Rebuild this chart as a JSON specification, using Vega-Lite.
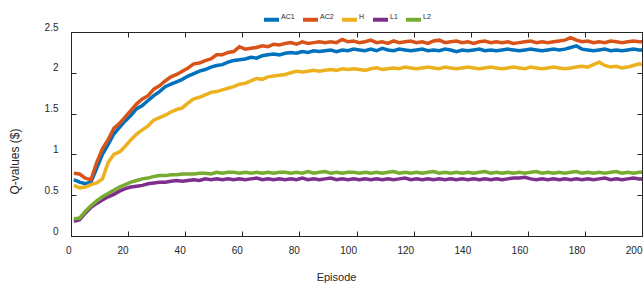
{
"$schema": "https://vega.github.io/schema/vega-lite/v6.json",
"width": 571, "height": 204,
"autosize": {"type": "none"},
"padding": {"left": 71, "top": 32, "right": 2, "bottom": 54},
"background": "white",
"config": {"view": {"stroke": "#262626", "strokeWidth": 1}, "font": "Liberation Sans",
 "axis": {"domainColor": "#262626", "domainWidth": 1, "domainOpacity": 1, "tickColor": "#262626", "labelColor": "#262626", "titleColor": "#262626", "grid": false, "tickSize": -5, "labelFontSize": 10, "titleFontWeight": "normal", "labelFont": "Liberation Sans", "titleFont": "Liberation Sans"}},
"datasets": {"q": [
{"e":1,"s":"AC1","q":0.69},{"e":3,"s":"AC1","q":0.66},{"e":5,"s":"AC1","q":0.64},{"e":7,"s":"AC1","q":0.66},{"e":9,"s":"AC1","q":0.83},{"e":11,"s":"AC1","q":1.0},{"e":13,"s":"AC1","q":1.12},{"e":15,"s":"AC1","q":1.25},{"e":17,"s":"AC1","q":1.33},{"e":19,"s":"AC1","q":1.41},{"e":21,"s":"AC1","q":1.48},{"e":23,"s":"AC1","q":1.56},{"e":25,"s":"AC1","q":1.6},{"e":27,"s":"AC1","q":1.66},{"e":29,"s":"AC1","q":1.72},{"e":31,"s":"AC1","q":1.77},{"e":33,"s":"AC1","q":1.83},{"e":35,"s":"AC1","q":1.86},{"e":37,"s":"AC1","q":1.89},{"e":39,"s":"AC1","q":1.92},{"e":41,"s":"AC1","q":1.96},{"e":43,"s":"AC1","q":1.99},{"e":45,"s":"AC1","q":2.02},{"e":47,"s":"AC1","q":2.04},{"e":49,"s":"AC1","q":2.07},{"e":51,"s":"AC1","q":2.09},{"e":53,"s":"AC1","q":2.1},{"e":55,"s":"AC1","q":2.13},{"e":57,"s":"AC1","q":2.15},{"e":59,"s":"AC1","q":2.16},{"e":61,"s":"AC1","q":2.17},{"e":63,"s":"AC1","q":2.19},{"e":65,"s":"AC1","q":2.18},{"e":67,"s":"AC1","q":2.21},{"e":69,"s":"AC1","q":2.22},{"e":71,"s":"AC1","q":2.23},{"e":73,"s":"AC1","q":2.22},{"e":75,"s":"AC1","q":2.24},{"e":77,"s":"AC1","q":2.25},{"e":79,"s":"AC1","q":2.24},{"e":81,"s":"AC1","q":2.26},{"e":83,"s":"AC1","q":2.25},{"e":85,"s":"AC1","q":2.27},{"e":87,"s":"AC1","q":2.26},{"e":89,"s":"AC1","q":2.27},{"e":91,"s":"AC1","q":2.28},{"e":93,"s":"AC1","q":2.26},{"e":95,"s":"AC1","q":2.28},{"e":97,"s":"AC1","q":2.27},{"e":99,"s":"AC1","q":2.29},{"e":101,"s":"AC1","q":2.28},{"e":103,"s":"AC1","q":2.27},{"e":105,"s":"AC1","q":2.29},{"e":107,"s":"AC1","q":2.27},{"e":109,"s":"AC1","q":2.3},{"e":111,"s":"AC1","q":2.28},{"e":113,"s":"AC1","q":2.27},{"e":115,"s":"AC1","q":2.29},{"e":117,"s":"AC1","q":2.28},{"e":119,"s":"AC1","q":2.27},{"e":121,"s":"AC1","q":2.28},{"e":123,"s":"AC1","q":2.29},{"e":125,"s":"AC1","q":2.27},{"e":127,"s":"AC1","q":2.28},{"e":129,"s":"AC1","q":2.27},{"e":131,"s":"AC1","q":2.29},{"e":133,"s":"AC1","q":2.28},{"e":135,"s":"AC1","q":2.26},{"e":137,"s":"AC1","q":2.28},{"e":139,"s":"AC1","q":2.27},{"e":141,"s":"AC1","q":2.28},{"e":143,"s":"AC1","q":2.29},{"e":145,"s":"AC1","q":2.27},{"e":147,"s":"AC1","q":2.28},{"e":149,"s":"AC1","q":2.27},{"e":151,"s":"AC1","q":2.28},{"e":153,"s":"AC1","q":2.29},{"e":155,"s":"AC1","q":2.28},{"e":157,"s":"AC1","q":2.27},{"e":159,"s":"AC1","q":2.28},{"e":161,"s":"AC1","q":2.29},{"e":163,"s":"AC1","q":2.28},{"e":165,"s":"AC1","q":2.27},{"e":167,"s":"AC1","q":2.28},{"e":169,"s":"AC1","q":2.29},{"e":171,"s":"AC1","q":2.28},{"e":173,"s":"AC1","q":2.29},{"e":175,"s":"AC1","q":2.31},{"e":177,"s":"AC1","q":2.33},{"e":179,"s":"AC1","q":2.29},{"e":181,"s":"AC1","q":2.28},{"e":183,"s":"AC1","q":2.27},{"e":185,"s":"AC1","q":2.28},{"e":187,"s":"AC1","q":2.29},{"e":189,"s":"AC1","q":2.27},{"e":191,"s":"AC1","q":2.28},{"e":193,"s":"AC1","q":2.27},{"e":195,"s":"AC1","q":2.28},{"e":197,"s":"AC1","q":2.29},{"e":199,"s":"AC1","q":2.28},{"e":200,"s":"AC1","q":2.28},
{"e":1,"s":"AC2","q":0.77},{"e":3,"s":"AC2","q":0.76},{"e":5,"s":"AC2","q":0.71},{"e":7,"s":"AC2","q":0.69},{"e":9,"s":"AC2","q":0.9},{"e":11,"s":"AC2","q":1.07},{"e":13,"s":"AC2","q":1.18},{"e":15,"s":"AC2","q":1.32},{"e":17,"s":"AC2","q":1.38},{"e":19,"s":"AC2","q":1.46},{"e":21,"s":"AC2","q":1.54},{"e":23,"s":"AC2","q":1.62},{"e":25,"s":"AC2","q":1.68},{"e":27,"s":"AC2","q":1.72},{"e":29,"s":"AC2","q":1.8},{"e":31,"s":"AC2","q":1.84},{"e":33,"s":"AC2","q":1.9},{"e":35,"s":"AC2","q":1.95},{"e":37,"s":"AC2","q":1.98},{"e":39,"s":"AC2","q":2.02},{"e":41,"s":"AC2","q":2.06},{"e":43,"s":"AC2","q":2.11},{"e":45,"s":"AC2","q":2.12},{"e":47,"s":"AC2","q":2.15},{"e":49,"s":"AC2","q":2.17},{"e":51,"s":"AC2","q":2.22},{"e":53,"s":"AC2","q":2.22},{"e":55,"s":"AC2","q":2.25},{"e":57,"s":"AC2","q":2.26},{"e":59,"s":"AC2","q":2.32},{"e":61,"s":"AC2","q":2.29},{"e":63,"s":"AC2","q":2.3},{"e":65,"s":"AC2","q":2.31},{"e":67,"s":"AC2","q":2.33},{"e":69,"s":"AC2","q":2.32},{"e":71,"s":"AC2","q":2.35},{"e":73,"s":"AC2","q":2.34},{"e":75,"s":"AC2","q":2.36},{"e":77,"s":"AC2","q":2.37},{"e":79,"s":"AC2","q":2.35},{"e":81,"s":"AC2","q":2.38},{"e":83,"s":"AC2","q":2.36},{"e":85,"s":"AC2","q":2.37},{"e":87,"s":"AC2","q":2.38},{"e":89,"s":"AC2","q":2.37},{"e":91,"s":"AC2","q":2.38},{"e":93,"s":"AC2","q":2.37},{"e":95,"s":"AC2","q":2.41},{"e":97,"s":"AC2","q":2.38},{"e":99,"s":"AC2","q":2.39},{"e":101,"s":"AC2","q":2.37},{"e":103,"s":"AC2","q":2.38},{"e":105,"s":"AC2","q":2.4},{"e":107,"s":"AC2","q":2.37},{"e":109,"s":"AC2","q":2.38},{"e":111,"s":"AC2","q":2.36},{"e":113,"s":"AC2","q":2.39},{"e":115,"s":"AC2","q":2.37},{"e":117,"s":"AC2","q":2.38},{"e":119,"s":"AC2","q":2.39},{"e":121,"s":"AC2","q":2.37},{"e":123,"s":"AC2","q":2.38},{"e":125,"s":"AC2","q":2.36},{"e":127,"s":"AC2","q":2.39},{"e":129,"s":"AC2","q":2.4},{"e":131,"s":"AC2","q":2.37},{"e":133,"s":"AC2","q":2.38},{"e":135,"s":"AC2","q":2.39},{"e":137,"s":"AC2","q":2.37},{"e":139,"s":"AC2","q":2.38},{"e":141,"s":"AC2","q":2.36},{"e":143,"s":"AC2","q":2.38},{"e":145,"s":"AC2","q":2.39},{"e":147,"s":"AC2","q":2.37},{"e":149,"s":"AC2","q":2.38},{"e":151,"s":"AC2","q":2.37},{"e":153,"s":"AC2","q":2.38},{"e":155,"s":"AC2","q":2.36},{"e":157,"s":"AC2","q":2.37},{"e":159,"s":"AC2","q":2.38},{"e":161,"s":"AC2","q":2.39},{"e":163,"s":"AC2","q":2.37},{"e":165,"s":"AC2","q":2.38},{"e":167,"s":"AC2","q":2.37},{"e":169,"s":"AC2","q":2.38},{"e":171,"s":"AC2","q":2.39},{"e":173,"s":"AC2","q":2.4},{"e":175,"s":"AC2","q":2.43},{"e":177,"s":"AC2","q":2.4},{"e":179,"s":"AC2","q":2.38},{"e":181,"s":"AC2","q":2.39},{"e":183,"s":"AC2","q":2.37},{"e":185,"s":"AC2","q":2.38},{"e":187,"s":"AC2","q":2.37},{"e":189,"s":"AC2","q":2.39},{"e":191,"s":"AC2","q":2.38},{"e":193,"s":"AC2","q":2.37},{"e":195,"s":"AC2","q":2.38},{"e":197,"s":"AC2","q":2.39},{"e":199,"s":"AC2","q":2.38},{"e":200,"s":"AC2","q":2.38},
{"e":1,"s":"H","q":0.62},{"e":3,"s":"H","q":0.59},{"e":5,"s":"H","q":0.6},{"e":7,"s":"H","q":0.63},{"e":9,"s":"H","q":0.65},{"e":11,"s":"H","q":0.7},{"e":13,"s":"H","q":0.9},{"e":15,"s":"H","q":1.0},{"e":17,"s":"H","q":1.03},{"e":19,"s":"H","q":1.1},{"e":21,"s":"H","q":1.18},{"e":23,"s":"H","q":1.25},{"e":25,"s":"H","q":1.3},{"e":27,"s":"H","q":1.35},{"e":29,"s":"H","q":1.42},{"e":31,"s":"H","q":1.45},{"e":33,"s":"H","q":1.48},{"e":35,"s":"H","q":1.52},{"e":37,"s":"H","q":1.55},{"e":39,"s":"H","q":1.57},{"e":41,"s":"H","q":1.63},{"e":43,"s":"H","q":1.68},{"e":45,"s":"H","q":1.7},{"e":47,"s":"H","q":1.73},{"e":49,"s":"H","q":1.76},{"e":51,"s":"H","q":1.77},{"e":53,"s":"H","q":1.79},{"e":55,"s":"H","q":1.81},{"e":57,"s":"H","q":1.83},{"e":59,"s":"H","q":1.86},{"e":61,"s":"H","q":1.87},{"e":63,"s":"H","q":1.9},{"e":65,"s":"H","q":1.93},{"e":67,"s":"H","q":1.92},{"e":69,"s":"H","q":1.95},{"e":71,"s":"H","q":1.96},{"e":73,"s":"H","q":1.97},{"e":75,"s":"H","q":1.98},{"e":77,"s":"H","q":2.0},{"e":79,"s":"H","q":2.02},{"e":81,"s":"H","q":2.01},{"e":83,"s":"H","q":2.02},{"e":85,"s":"H","q":2.03},{"e":87,"s":"H","q":2.02},{"e":89,"s":"H","q":2.03},{"e":91,"s":"H","q":2.04},{"e":93,"s":"H","q":2.03},{"e":95,"s":"H","q":2.05},{"e":97,"s":"H","q":2.04},{"e":99,"s":"H","q":2.05},{"e":101,"s":"H","q":2.04},{"e":103,"s":"H","q":2.03},{"e":105,"s":"H","q":2.05},{"e":107,"s":"H","q":2.06},{"e":109,"s":"H","q":2.04},{"e":111,"s":"H","q":2.05},{"e":113,"s":"H","q":2.06},{"e":115,"s":"H","q":2.05},{"e":117,"s":"H","q":2.07},{"e":119,"s":"H","q":2.06},{"e":121,"s":"H","q":2.05},{"e":123,"s":"H","q":2.06},{"e":125,"s":"H","q":2.07},{"e":127,"s":"H","q":2.06},{"e":129,"s":"H","q":2.05},{"e":131,"s":"H","q":2.07},{"e":133,"s":"H","q":2.06},{"e":135,"s":"H","q":2.05},{"e":137,"s":"H","q":2.06},{"e":139,"s":"H","q":2.07},{"e":141,"s":"H","q":2.06},{"e":143,"s":"H","q":2.05},{"e":145,"s":"H","q":2.06},{"e":147,"s":"H","q":2.07},{"e":149,"s":"H","q":2.06},{"e":151,"s":"H","q":2.05},{"e":153,"s":"H","q":2.06},{"e":155,"s":"H","q":2.07},{"e":157,"s":"H","q":2.06},{"e":159,"s":"H","q":2.05},{"e":161,"s":"H","q":2.07},{"e":163,"s":"H","q":2.06},{"e":165,"s":"H","q":2.05},{"e":167,"s":"H","q":2.06},{"e":169,"s":"H","q":2.07},{"e":171,"s":"H","q":2.06},{"e":173,"s":"H","q":2.05},{"e":175,"s":"H","q":2.06},{"e":177,"s":"H","q":2.07},{"e":179,"s":"H","q":2.08},{"e":181,"s":"H","q":2.07},{"e":183,"s":"H","q":2.1},{"e":185,"s":"H","q":2.13},{"e":187,"s":"H","q":2.09},{"e":189,"s":"H","q":2.07},{"e":191,"s":"H","q":2.08},{"e":193,"s":"H","q":2.06},{"e":195,"s":"H","q":2.07},{"e":197,"s":"H","q":2.09},{"e":199,"s":"H","q":2.11},{"e":200,"s":"H","q":2.1},
{"e":1,"s":"L1","q":0.18},{"e":3,"s":"L1","q":0.2},{"e":5,"s":"L1","q":0.28},{"e":7,"s":"L1","q":0.35},{"e":9,"s":"L1","q":0.4},{"e":11,"s":"L1","q":0.44},{"e":13,"s":"L1","q":0.48},{"e":15,"s":"L1","q":0.51},{"e":17,"s":"L1","q":0.55},{"e":19,"s":"L1","q":0.58},{"e":21,"s":"L1","q":0.6},{"e":23,"s":"L1","q":0.61},{"e":25,"s":"L1","q":0.62},{"e":27,"s":"L1","q":0.64},{"e":29,"s":"L1","q":0.65},{"e":31,"s":"L1","q":0.66},{"e":33,"s":"L1","q":0.66},{"e":35,"s":"L1","q":0.67},{"e":37,"s":"L1","q":0.68},{"e":39,"s":"L1","q":0.67},{"e":41,"s":"L1","q":0.68},{"e":43,"s":"L1","q":0.69},{"e":45,"s":"L1","q":0.68},{"e":47,"s":"L1","q":0.7},{"e":49,"s":"L1","q":0.69},{"e":51,"s":"L1","q":0.7},{"e":53,"s":"L1","q":0.69},{"e":55,"s":"L1","q":0.7},{"e":57,"s":"L1","q":0.69},{"e":59,"s":"L1","q":0.7},{"e":61,"s":"L1","q":0.69},{"e":63,"s":"L1","q":0.7},{"e":65,"s":"L1","q":0.71},{"e":67,"s":"L1","q":0.69},{"e":69,"s":"L1","q":0.7},{"e":71,"s":"L1","q":0.69},{"e":73,"s":"L1","q":0.7},{"e":75,"s":"L1","q":0.69},{"e":77,"s":"L1","q":0.7},{"e":79,"s":"L1","q":0.69},{"e":81,"s":"L1","q":0.71},{"e":83,"s":"L1","q":0.69},{"e":85,"s":"L1","q":0.7},{"e":87,"s":"L1","q":0.69},{"e":89,"s":"L1","q":0.7},{"e":91,"s":"L1","q":0.71},{"e":93,"s":"L1","q":0.69},{"e":95,"s":"L1","q":0.7},{"e":97,"s":"L1","q":0.69},{"e":99,"s":"L1","q":0.7},{"e":101,"s":"L1","q":0.69},{"e":103,"s":"L1","q":0.7},{"e":105,"s":"L1","q":0.69},{"e":107,"s":"L1","q":0.7},{"e":109,"s":"L1","q":0.69},{"e":111,"s":"L1","q":0.7},{"e":113,"s":"L1","q":0.69},{"e":115,"s":"L1","q":0.7},{"e":117,"s":"L1","q":0.71},{"e":119,"s":"L1","q":0.69},{"e":121,"s":"L1","q":0.7},{"e":123,"s":"L1","q":0.69},{"e":125,"s":"L1","q":0.7},{"e":127,"s":"L1","q":0.69},{"e":129,"s":"L1","q":0.7},{"e":131,"s":"L1","q":0.69},{"e":133,"s":"L1","q":0.7},{"e":135,"s":"L1","q":0.69},{"e":137,"s":"L1","q":0.7},{"e":139,"s":"L1","q":0.69},{"e":141,"s":"L1","q":0.7},{"e":143,"s":"L1","q":0.69},{"e":145,"s":"L1","q":0.7},{"e":147,"s":"L1","q":0.69},{"e":149,"s":"L1","q":0.7},{"e":151,"s":"L1","q":0.69},{"e":153,"s":"L1","q":0.7},{"e":155,"s":"L1","q":0.71},{"e":157,"s":"L1","q":0.71},{"e":159,"s":"L1","q":0.72},{"e":161,"s":"L1","q":0.7},{"e":163,"s":"L1","q":0.69},{"e":165,"s":"L1","q":0.7},{"e":167,"s":"L1","q":0.69},{"e":169,"s":"L1","q":0.7},{"e":171,"s":"L1","q":0.69},{"e":173,"s":"L1","q":0.7},{"e":175,"s":"L1","q":0.69},{"e":177,"s":"L1","q":0.7},{"e":179,"s":"L1","q":0.69},{"e":181,"s":"L1","q":0.7},{"e":183,"s":"L1","q":0.69},{"e":185,"s":"L1","q":0.7},{"e":187,"s":"L1","q":0.71},{"e":189,"s":"L1","q":0.69},{"e":191,"s":"L1","q":0.7},{"e":193,"s":"L1","q":0.69},{"e":195,"s":"L1","q":0.7},{"e":197,"s":"L1","q":0.71},{"e":199,"s":"L1","q":0.7},{"e":200,"s":"L1","q":0.7},
{"e":1,"s":"L2","q":0.21},{"e":3,"s":"L2","q":0.22},{"e":5,"s":"L2","q":0.3},{"e":7,"s":"L2","q":0.37},{"e":9,"s":"L2","q":0.43},{"e":11,"s":"L2","q":0.48},{"e":13,"s":"L2","q":0.52},{"e":15,"s":"L2","q":0.56},{"e":17,"s":"L2","q":0.6},{"e":19,"s":"L2","q":0.63},{"e":21,"s":"L2","q":0.66},{"e":23,"s":"L2","q":0.68},{"e":25,"s":"L2","q":0.7},{"e":27,"s":"L2","q":0.71},{"e":29,"s":"L2","q":0.73},{"e":31,"s":"L2","q":0.74},{"e":33,"s":"L2","q":0.74},{"e":35,"s":"L2","q":0.75},{"e":37,"s":"L2","q":0.75},{"e":39,"s":"L2","q":0.76},{"e":41,"s":"L2","q":0.76},{"e":43,"s":"L2","q":0.76},{"e":45,"s":"L2","q":0.77},{"e":47,"s":"L2","q":0.77},{"e":49,"s":"L2","q":0.76},{"e":51,"s":"L2","q":0.78},{"e":53,"s":"L2","q":0.77},{"e":55,"s":"L2","q":0.78},{"e":57,"s":"L2","q":0.78},{"e":59,"s":"L2","q":0.77},{"e":61,"s":"L2","q":0.78},{"e":63,"s":"L2","q":0.77},{"e":65,"s":"L2","q":0.78},{"e":67,"s":"L2","q":0.77},{"e":69,"s":"L2","q":0.78},{"e":71,"s":"L2","q":0.77},{"e":73,"s":"L2","q":0.78},{"e":75,"s":"L2","q":0.78},{"e":77,"s":"L2","q":0.77},{"e":79,"s":"L2","q":0.78},{"e":81,"s":"L2","q":0.77},{"e":83,"s":"L2","q":0.79},{"e":85,"s":"L2","q":0.77},{"e":87,"s":"L2","q":0.78},{"e":89,"s":"L2","q":0.79},{"e":91,"s":"L2","q":0.77},{"e":93,"s":"L2","q":0.78},{"e":95,"s":"L2","q":0.77},{"e":97,"s":"L2","q":0.78},{"e":99,"s":"L2","q":0.78},{"e":101,"s":"L2","q":0.77},{"e":103,"s":"L2","q":0.78},{"e":105,"s":"L2","q":0.77},{"e":107,"s":"L2","q":0.78},{"e":109,"s":"L2","q":0.77},{"e":111,"s":"L2","q":0.78},{"e":113,"s":"L2","q":0.79},{"e":115,"s":"L2","q":0.77},{"e":117,"s":"L2","q":0.78},{"e":119,"s":"L2","q":0.77},{"e":121,"s":"L2","q":0.78},{"e":123,"s":"L2","q":0.77},{"e":125,"s":"L2","q":0.78},{"e":127,"s":"L2","q":0.79},{"e":129,"s":"L2","q":0.77},{"e":131,"s":"L2","q":0.78},{"e":133,"s":"L2","q":0.77},{"e":135,"s":"L2","q":0.78},{"e":137,"s":"L2","q":0.77},{"e":139,"s":"L2","q":0.78},{"e":141,"s":"L2","q":0.77},{"e":143,"s":"L2","q":0.78},{"e":145,"s":"L2","q":0.79},{"e":147,"s":"L2","q":0.77},{"e":149,"s":"L2","q":0.78},{"e":151,"s":"L2","q":0.77},{"e":153,"s":"L2","q":0.78},{"e":155,"s":"L2","q":0.77},{"e":157,"s":"L2","q":0.78},{"e":159,"s":"L2","q":0.77},{"e":161,"s":"L2","q":0.78},{"e":163,"s":"L2","q":0.79},{"e":165,"s":"L2","q":0.77},{"e":167,"s":"L2","q":0.78},{"e":169,"s":"L2","q":0.77},{"e":171,"s":"L2","q":0.78},{"e":173,"s":"L2","q":0.77},{"e":175,"s":"L2","q":0.78},{"e":177,"s":"L2","q":0.79},{"e":179,"s":"L2","q":0.77},{"e":181,"s":"L2","q":0.78},{"e":183,"s":"L2","q":0.77},{"e":185,"s":"L2","q":0.78},{"e":187,"s":"L2","q":0.77},{"e":189,"s":"L2","q":0.78},{"e":191,"s":"L2","q":0.79},{"e":193,"s":"L2","q":0.77},{"e":195,"s":"L2","q":0.78},{"e":197,"s":"L2","q":0.77},{"e":199,"s":"L2","q":0.78},{"e":200,"s":"L2","q":0.78}
]},
"data": {"name": "q"},
"layer": [
 {"mark": {"type": "line", "strokeWidth": 3.5},
  "encoding": {
   "x": {"field": "e", "type": "quantitative", "scale": {"domain": [0, 200], "nice": false},
     "axis": {"orient": "bottom", "values": [0, 20, 40, 60, 80, 100, 120, 140, 160, 180, 200], "labelAlign": "right", "labelFlush": false, "labelPadding": 14, "title": "Episode", "titleX": 265, "titleY": 44, "titleAlign": "center", "titleBaseline": "alphabetic", "titleFontSize": 11}},
   "y": {"field": "q", "type": "quantitative", "scale": {"domain": [0, 2.5], "nice": false},
     "axis": {"orient": "left", "values": [0, 0.5, 1, 1.5, 2, 2.5], "format": "~g", "labelBaseline": "bottom", "labelPadding": 18, "labelFlush": false, "title": "Q-values ($)", "titleX": -57, "titleY": 129, "titleAlign": "center", "titleBaseline": "middle", "titleAngle": -90, "titleFontSize": 12}},
   "color": {"field": "s", "type": "nominal",
     "scale": {"domain": ["AC1", "AC2", "H", "L1", "L2"], "range": ["#0072BD", "#D95319", "#EDB120", "#7E2F8E", "#77AC30"]},
     "legend": {"orient": "none", "legendX": 191, "legendY": -22, "direction": "horizontal", "title": null, "symbolType": "stroke", "symbolSize": 225, "symbolStrokeWidth": 4, "labelFontSize": 7, "labelOffset": 0, "labelBaseline": "bottom", "columnPadding": 0, "labelColor": "#262626", "labelFont": "Liberation Sans"}}
  }},
 {"mark": {"type": "line", "opacity": 0},
  "encoding": {
   "x": {"field": "e", "type": "quantitative", "axis": {"orient": "top", "labels": false, "title": null, "values": [0, 20, 40, 60, 80, 100, 120, 140, 160, 180, 200]}},
   "y": {"field": "q", "type": "quantitative", "axis": {"orient": "right", "labels": false, "title": null, "values": [0, 0.5, 1, 1.5, 2, 2.5]}},
   "detail": {"field": "s"}
  }}
],
"resolve": {"axis": {"x": "independent", "y": "independent"}}
}
